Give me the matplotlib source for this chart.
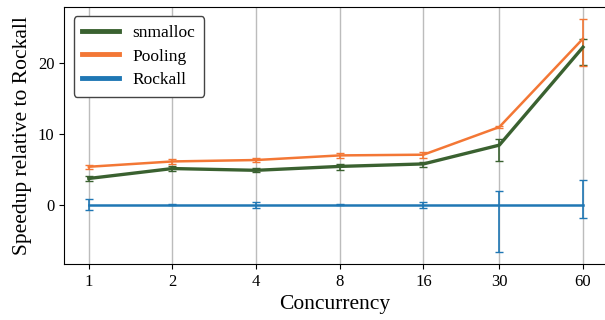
import matplotlib.pyplot as plt

plt.rcParams['font.family'] = ['Liberation Serif', 'DejaVu Serif']

concurrency = [1, 2, 4, 8, 16, 30, 60]

snmalloc = [3.7, 5.1, 4.85, 5.4, 5.75, 8.4, 22.2]
snmalloc_lo = [0.4, 0.3, 0.3, 0.5, 0.4, 2.2, 2.5]
snmalloc_hi = [0.3, 0.3, 0.3, 0.4, 0.3, 0.8, 1.2]

pooling = [5.35, 6.1, 6.3, 6.95, 7.05, 10.95, 23.4]
pooling_lo = [0.3, 0.3, 0.3, 0.3, 0.4, 0.2, 3.9]
pooling_hi = [0.3, 0.3, 0.3, 0.3, 0.4, 0.2, 2.7]

rockall = [0, 0, 0, 0, 0, 0, 0]
rockall_lo = [0.75, 0.1, 0.4, 0.1, 0.4, 6.7, 1.8]
rockall_hi = [0.75, 0.1, 0.4, 0.1, 0.4, 2.0, 3.5]

fig, ax = plt.subplots(figsize=(6.05, 3.2), dpi=100)
fig.subplots_adjust(left=0.106, right=1.0, bottom=0.175, top=0.979)

e1 = ax.errorbar(concurrency, snmalloc, yerr=[snmalloc_lo, snmalloc_hi], color='#3a6130',
                 lw=2.4, capsize=3, elinewidth=1.2, label='snmalloc', zorder=3)
e2 = ax.errorbar(concurrency, pooling, yerr=[pooling_lo, pooling_hi], color='#f37735',
                 lw=1.8, capsize=3, elinewidth=1.2, label='Pooling', zorder=3)
e3 = ax.errorbar(concurrency, rockall, yerr=[rockall_lo, rockall_hi], color='#1f77b4',
                 lw=1.8, capsize=3, elinewidth=1.2, label='Rockall', zorder=3)

ax.set_xscale('log', base=2)
ax.set_xticks(concurrency)
ax.set_xticklabels([str(c) for c in concurrency])
ax.minorticks_off()
ax.set_xlim(0.815, 72)
ax.set_ylim(-8.35, 27.9)
ax.set_yticks([0, 10, 20])
ax.grid(axis='x', color='#bcbcbc', lw=1)
ax.tick_params(labelsize=12)
ax.spines['right'].set_visible(False)

ax.set_xlabel('Concurrency', fontsize=15.5)
ax.set_ylabel('Speedup relative to Rockall', fontsize=15.5)

# plain line handles, no error bar glyphs in the legend
handles = [e[0] for e in (e1, e2, e3)]
leg = ax.legend(handles, ['snmalloc', 'Pooling', 'Rockall'], loc='upper left',
                fontsize=12.5, edgecolor='#444444', framealpha=1,
                handlelength=2.1, handletextpad=0.8, borderpad=0.5,
                labelspacing=0.42, borderaxespad=0.55)
for line in leg.get_lines():
    line.set_linewidth(3.5)

plt.savefig('out.png')
